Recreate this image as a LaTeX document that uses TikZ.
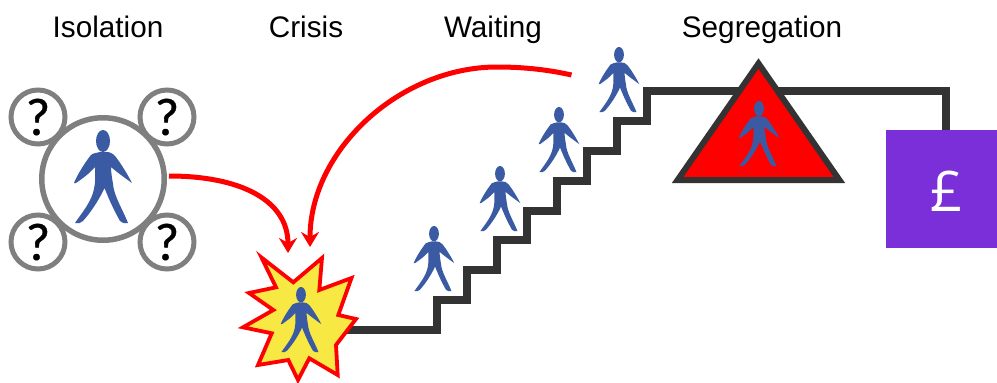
\documentclass[tikz,border=0pt]{standalone}
\usepackage{fontspec}
\setmainfont{Liberation Sans}
\newfontfamily\qfont[FakeBold=0.7]{Carlito}
\newfontfamily\pfont{Open Sans}
\definecolor{fig}{HTML}{3A5BA3}
\definecolor{ringgray}{HTML}{7F7F7F}
\definecolor{stair}{HTML}{333333}
\definecolor{boxpurple}{HTML}{7B2FD9}
\definecolor{staryellow}{HTML}{F7E843}
\usetikzlibrary{arrows.meta}
\tikzset{
  x=1pt,y=-1pt,
  title/.style={font=\fontsize{29.7}{32}\selectfont,text=black,inner sep=0pt,anchor=base},
  ring/.style={circle,draw=ringgray,fill=white,inner sep=0pt},
  smallring/.style={ring,line width=5pt,minimum size=54pt,font=\qfont\fontsize{53}{53}\selectfont},
  redarrow/.style={draw=red,line width=5pt,-{Stealth[length=15pt,width=18pt,inset=5pt]}},
  stairline/.style={draw=stair,line width=7.3pt,miter limit=10},
  person/.pic={
    \fill[fig] (0,11) ellipse[x radius=7,y radius=11];
    \fill[fig] (-3,22) .. controls (-6,23) and (-10,23) .. (-12,25)
      .. controls (-17,31) and (-26,45) .. (-29,53) -- (-27,53)
      .. controls (-20,48) and (-14,44) .. (-8,37)
      .. controls (-8,47) and (-7,52) .. (-10,63)
      .. controls (-14,75) and (-22,84) .. (-28,93) .. controls (-25,94) and (-22,93) .. (-20,91)
      .. controls (-12,82) and (-4,70) .. (1.5,58)
      .. controls (7,72) and (12,82) .. (17,91) .. controls (19,93) and (22,94) .. (25,93)
      .. controls (19,78) and (11,66) .. (10,54)
      .. controls (9,48) and (8,42) .. (8,37)
      .. controls (15,43) and (22,48) .. (29,53)
      .. controls (25,45) and (17,32) .. (12,26)
      .. controls (9,23) and (7,22) .. (3,22) -- cycle;
  }
}
\begin{document}
\begin{tikzpicture}
\useasboundingbox (0,0) rectangle (997,383);
% titles
\node[title] (t1) at (108,37) {Isolation};
\node[title] (t2) at (306,37) {Crisis};
\node[title] (t3) at (493,37) {Waiting};
\node[title] (t4) at (762,37) {Segregation};
% isolation
\node[smallring] (q1) at (38,117) {?};
\node[smallring] (q2) at (167,117) {?};
\node[smallring] (q3) at (38,242) {?};
\node[smallring] (q4) at (167,242) {?};
\node[ring,line width=5.5pt,minimum size=122.5pt] (iso) at (103,179) {};
\pic at (103,130) {person};
% stairs and box
\node[fill=boxpurple,minimum width=111pt,minimum height=118pt,inner sep=0pt] (box) at (941.5,189) {};
\node[text=white,inner sep=0pt,font=\pfont\fontsize{56}{56}\selectfont] (pound) at (947,191) {£};
\coordinate (stairstart) at (330,330);
\coordinate (boxtop) at (946,130);
\draw[stairline] (stairstart) -- (437,330) |- (467,300) |- (497,270) |- (527,240) |- (557,211) |- (587,181) |- (617,151) |- (647,121) |- (946,91) -- (boxtop);
% triangle
\draw[draw=stair,fill=red,line width=6pt] (758.5,63.5) coordinate (apex) -- (677.6,180) -- (839.4,180) -- cycle;
% star
\draw[draw=red,fill=staryellow,line width=3.8pt] (261.5,257.5) -- (293.3,282.3) -- (322,258) -- (319.3,290) -- (351.5,278) -- (338.3,315) -- (356,319) -- (336,345) -- (337.7,375) -- (309.3,358.3) -- (298,380) -- (288.3,360) -- (258,365) -- (271.7,333.3) -- (243,327.3) -- (273.3,310) -- (249,293) -- (276,287.3) -- cycle;
\coordinate (crisisa) at (288,253);
\coordinate (crisisb) at (310,247);
\coordinate (waitend) at (571.5,75);
% people
\foreach \px/\py in {301/287,434/226,500/166,559/107,619/47,759/101}
  \pic[scale=0.7] at (\px,\py) {person};
% arrows
\draw[redarrow] (iso.east) ++(2,-3) .. controls (240,176) and (288,200) .. (crisisa);
\draw[redarrow] (waitend) .. controls (545,69) and (520,67) .. (497,67) .. controls (400,67) and (310,150) .. (crisisb);
\end{tikzpicture}
\end{document}
